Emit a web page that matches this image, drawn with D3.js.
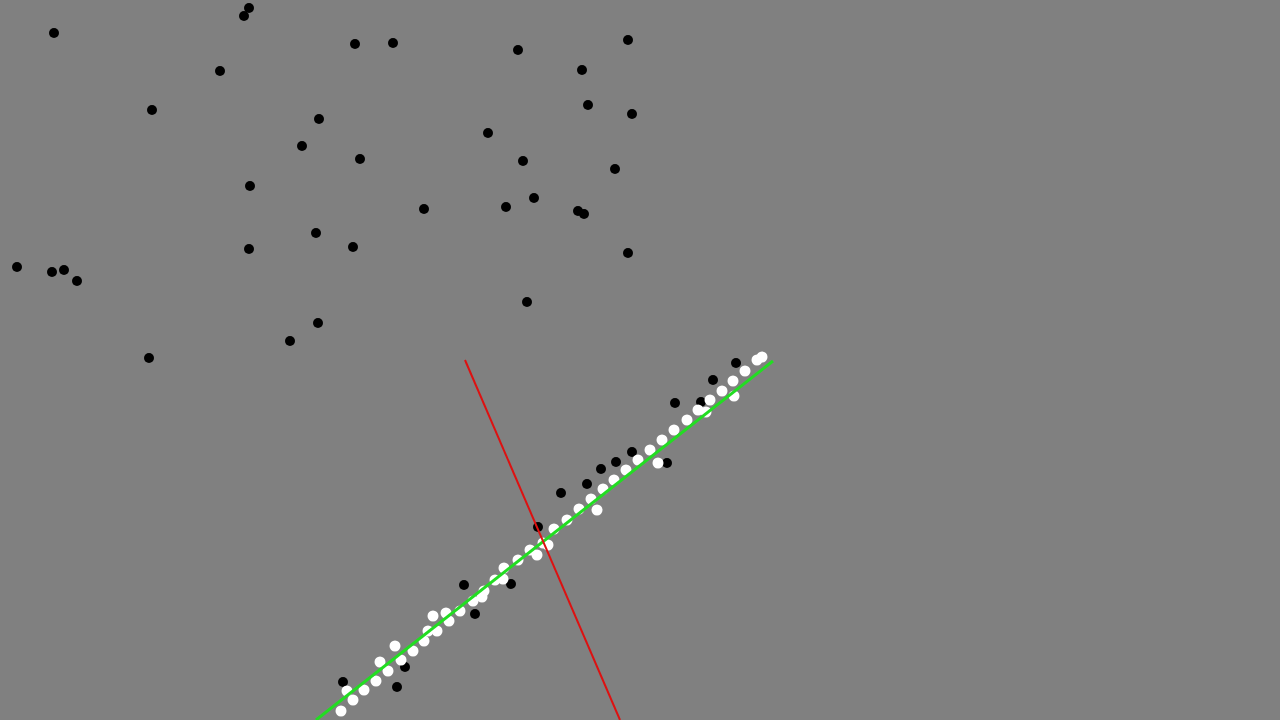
<!DOCTYPE html>
<html>
<head>
<meta charset="utf-8">
<title>PCA points</title>
<style>
  html, body { margin: 0; padding: 0; background: #808080; overflow: hidden; }
  svg { display: block; }
</style>
</head>
<body>
<svg width="1280" height="720"></svg>
<script src="https://d3js.org/d3.v7.min.js"></script>
<script>
// scattered black points (top cloud)
var cloudX = [249,244,54,220,152,319,302,250,316,249,17,52,64,77,318,290,149,
              355,393,518,628,582,588,632,360,488,523,615,424,506,534,578,584,628,353,527];
var cloudY = [8,16,33,71,110,119,146,186,233,249,267,272,270,281,323,341,358,
              44,43,50,40,70,105,114,159,133,161,169,209,207,198,211,214,253,247,302];

// black points near the fitted line
var rawX = [464,511,475,405,397,343,538,561,587,601,616,632,667,675,701,713,736];
var rawY = [585,584,614,667,687,682,527,493,484,469,462,452,463,403,402,380,363];

// white points (projected)
var projX = [341,353,347,364,376,388,380,401,395,413,424,428,437,433,446,449,460,473,482,484,495,503,504,518,
             530,537,543,548,554,567,579,597,591,603,614,626,638,650,658,662,674,687,698,706,710,722,734,733,745,757,762];
var projY = [711,700,691,690,681,671,662,660,646,651,641,631,631,616,613,621,611,601,597,591,580,579,568,560,
             550,555,543,545,529,520,509,510,499,489,480,470,460,450,463,440,430,420,410,412,400,391,396,381,371,360,357];

// principal axes (end points)
var axisMajor = [[316,720],[773,361]];
var axisMinor = [[465,360],[620,720]];

var svg = d3.select('svg');
var W = 1280, H = 720;

var x = d3.scaleLinear().domain([0,1280]).range([0,W]);
var y = d3.scaleLinear().domain([0,720]).range([0,H]);

svg.append('rect')
  .attr('x',0).attr('y',0)
  .attr('width',W).attr('height',H)
  .attr('fill','#808080');

svg.selectAll('.cloud')
  .data(d3.range(cloudX.length))
  .enter()
  .append('circle')
  .attr('class','cloud')
  .attr('cx',function(i){ return x(cloudX[i]); })
  .attr('cy',function(i){ return y(cloudY[i]); })
  .attr('r',5)
  .attr('fill','black');

svg.selectAll('.raw')
  .data(d3.range(rawX.length))
  .enter()
  .append('circle')
  .attr('class','raw')
  .attr('cx',function(i){ return x(rawX[i]); })
  .attr('cy',function(i){ return y(rawY[i]); })
  .attr('r',5)
  .attr('fill','black');

svg.selectAll('.proj')
  .data(d3.range(projX.length))
  .enter()
  .append('circle')
  .attr('class','proj')
  .attr('cx',function(i){ return x(projX[i]); })
  .attr('cy',function(i){ return y(projY[i]); })
  .attr('r',5.5)
  .attr('fill','white');

var line = d3.line()
  .x(function(d){ return x(d[0]); })
  .y(function(d){ return y(d[1]); });

svg.append('path')
  .attr('d',line(axisMajor))
  .attr('stroke','#22dd22')
  .attr('stroke-width',3)
  .attr('fill','none');

svg.append('path')
  .attr('d',line(axisMinor))
  .attr('stroke','#dd1111')
  .attr('stroke-width',2)
  .attr('fill','none');
</script>
</body>
</html>
